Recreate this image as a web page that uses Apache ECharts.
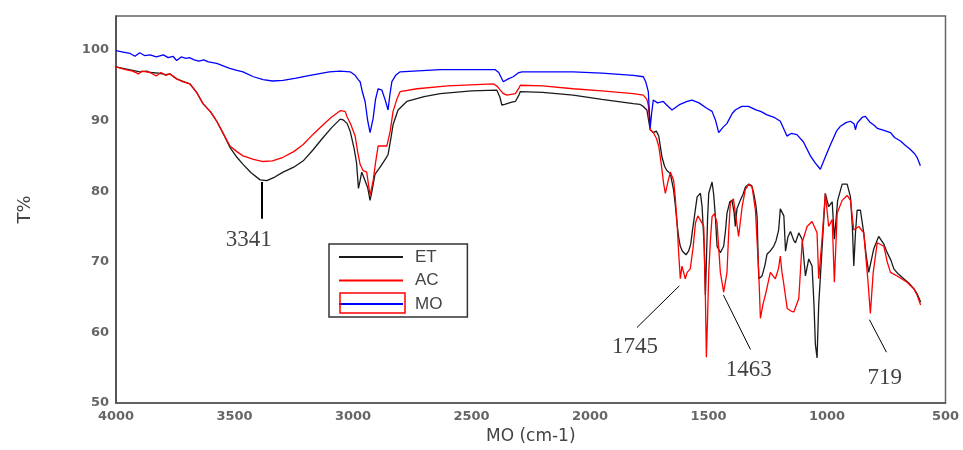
<!DOCTYPE html>
<html>
<head>
<meta charset="utf-8">
<script src="https://cdn.jsdelivr.net/npm/echarts@6/dist/echarts.min.js"></script>
<style>html,body{margin:0;padding:0;background:#fff}#c{width:963px;height:450px}</style>
</head>
<body>
<div id="c"></div>
<script>
// ---- data ----
var seriesNames = ['ET', 'AC', 'MO'];
var xTicks = [500, 1000, 1500, 2000, 2500, 3000, 3500, 4000];
var yTicks = [50, 60, 70, 80, 90, 100];

var etPoints = [[4000,97.6],[3960,97.3],[3930,97.1],[3900,96.9],[3870,97.0],[3856,96.8],[3820,96.7],[3790,96.5],[3772,96.6],[3744,95.9],[3720,95.6],[3688,95.2],[3660,94.0],[3633,92.4],[3600,91.2],[3575,89.9],[3545,88.0],[3519,86.2],[3490,84.8],[3464,83.8],[3430,82.6],[3392,81.6],[3364,81.5],[3330,82.0],[3295,82.7],[3250,83.4],[3210,84.3],[3170,85.8],[3126,87.6],[3090,89.0],[3054,90.2],[3042,90.1],[3025,89.6],[3012,88.5],[2995,86.0],[2985,84.0],[2977,80.4],[2970,81.5],[2963,82.7],[2955,82.0],[2949,82.2],[2938,80.5],[2928,78.7],[2920,80.0],[2907,82.4],[2890,83.2],[2878,83.8],[2862,84.6],[2852,85.2],[2840,87.5],[2831,89.4],[2810,91.5],[2773,92.7],[2700,93.4],[2632,93.8],[2500,94.2],[2393,94.3],[2380,93.3],[2372,92.2],[2360,92.3],[2350,92.4],[2330,92.6],[2315,92.7],[2300,93.6],[2294,94.1],[2200,94.0],[2071,93.6],[1950,93.0],[1817,92.4],[1790,92.3],[1775,92.0],[1760,91.5],[1750,89.5],[1746,88.7],[1733,88.3],[1720,88.5],[1710,87.8],[1696,84.8],[1685,83.5],[1675,82.9],[1661,82.5],[1647,80.1],[1640,78.0],[1633,75.5],[1626,73.5],[1619,72.2],[1610,71.5],[1605,71.3],[1595,71.0],[1584,71.5],[1575,72.5],[1569,74.1],[1555,77.5],[1548,79.2],[1534,79.7],[1527,77.8],[1518,72.0],[1513,65.3],[1509,70.0],[1504,76.0],[1499,79.7],[1485,81.3],[1478,79.5],[1471,76.4],[1464,72.2],[1450,71.3],[1436,72.2],[1428,74.5],[1422,76.9],[1410,78.5],[1401,78.7],[1392,77.0],[1387,75.0],[1380,77.5],[1366,78.7],[1355,79.5],[1344,80.6],[1330,81.0],[1318,80.8],[1309,79.7],[1300,78.0],[1295,76.4],[1288,67.6],[1274,68.0],[1262,69.5],[1253,71.1],[1240,71.5],[1225,72.2],[1215,73.0],[1204,74.5],[1197,77.5],[1189,77.3],[1182,76.5],[1175,71.5],[1165,73.5],[1154,74.3],[1140,73.0],[1133,72.7],[1119,74.1],[1105,73.2],[1091,68.0],[1077,70.4],[1063,69.4],[1055,64.0],[1049,58.3],[1042,56.4],[1035,63.9],[1021,71.8],[1007,79.7],[993,77.8],[978,78.5],[969,73.2],[955,78.7],[936,81.0],[915,81.0],[901,79.2],[893,75.0],[887,69.4],[880,74.0],[873,77.3],[859,77.3],[845,74.1],[835,71.0],[824,68.5],[803,71.8],[782,73.6],[760,72.5],[746,71.3],[730,70.2],[718,69.0],[700,68.3],[676,67.6],[655,67.0],[634,66.2],[620,65.5],[605,64.3]];

var acPoints = [[4000,97.6],[3960,97.2],[3930,97.0],[3905,96.6],[3890,97.0],[3856,96.8],[3830,96.3],[3810,96.8],[3790,96.4],[3772,96.6],[3744,95.9],[3720,95.5],[3688,95.2],[3660,94.0],[3633,92.4],[3600,91.2],[3575,89.9],[3545,88.0],[3519,86.4],[3490,85.6],[3464,85.0],[3420,84.5],[3379,84.2],[3340,84.3],[3295,84.8],[3250,85.6],[3210,86.6],[3170,88.0],[3126,89.4],[3090,90.5],[3054,91.4],[3033,91.3],[3026,90.6],[3010,89.5],[2991,87.8],[2980,85.5],[2970,83.8],[2957,82.9],[2942,82.7],[2935,81.0],[2928,79.4],[2915,81.5],[2905,84.0],[2894,86.4],[2857,86.4],[2843,88.5],[2831,91.3],[2815,93.0],[2801,94.1],[2730,94.5],[2600,94.9],[2408,95.2],[2390,94.8],[2379,94.3],[2365,93.8],[2350,93.6],[2315,93.8],[2300,94.6],[2294,95.0],[2200,94.9],[2071,94.5],[1950,94.2],[1817,93.8],[1775,93.6],[1760,93.0],[1754,92.2],[1746,88.7],[1733,88.3],[1720,87.5],[1710,86.4],[1700,84.0],[1689,81.0],[1682,79.7],[1670,81.5],[1661,82.7],[1647,81.5],[1640,79.0],[1633,75.7],[1626,71.3],[1619,67.6],[1612,69.4],[1605,68.5],[1598,67.6],[1590,68.5],[1577,69.0],[1565,72.0],[1555,75.5],[1545,76.5],[1534,75.9],[1520,75.0],[1513,64.8],[1509,56.5],[1504,62.0],[1499,68.5],[1492,73.0],[1485,76.4],[1475,76.8],[1464,75.5],[1457,72.0],[1450,68.5],[1436,65.7],[1422,68.5],[1415,74.0],[1408,78.3],[1395,78.9],[1387,78.7],[1373,73.6],[1358,77.8],[1345,80.2],[1330,81.0],[1316,80.6],[1302,77.3],[1288,68.5],[1281,62.0],[1270,64.0],[1260,65.3],[1239,68.5],[1218,67.6],[1205,69.0],[1197,70.8],[1190,68.5],[1183,67.0],[1168,63.4],[1150,63.0],[1140,62.9],[1119,64.8],[1105,72.7],[1084,75.0],[1063,75.7],[1042,74.1],[1035,67.6],[1021,73.2],[1007,79.7],[993,75.0],[978,76.0],[969,67.1],[957,76.9],[936,78.7],[915,79.4],[901,78.7],[887,74.5],[866,75.0],[845,74.1],[828,67.6],[817,62.7],[805,68.5],[788,72.7],[760,72.2],[746,70.0],[732,68.5],[704,68.0],[662,67.1],[634,66.2],[620,65.3],[605,63.9]];

var moPoints = [[4000,99.9],[3970,99.7],[3940,99.5],[3920,99.1],[3900,99.6],[3880,99.2],[3856,99.3],[3830,99.0],[3800,99.3],[3780,98.9],[3760,99.1],[3744,98.5],[3725,99.0],[3705,98.8],[3690,98.9],[3670,98.6],[3650,98.4],[3630,98.6],[3610,98.3],[3575,98.1],[3545,97.7],[3520,97.4],[3490,97.1],[3464,96.9],[3420,96.2],[3379,95.8],[3340,95.6],[3295,95.7],[3240,96.0],[3181,96.4],[3100,96.9],[3054,97.0],[3012,96.9],[2991,96.4],[2978,95.8],[2970,95.5],[2960,94.0],[2949,92.7],[2938,90.0],[2928,88.3],[2915,90.3],[2905,93.0],[2894,94.5],[2878,94.3],[2865,93.0],[2852,91.5],[2845,93.5],[2836,95.5],[2820,96.4],[2801,96.9],[2632,97.2],[2400,97.2],[2385,96.8],[2366,95.5],[2345,95.9],[2324,96.2],[2300,96.8],[2287,96.9],[2071,96.9],[1950,96.7],[1817,96.4],[1775,96.2],[1765,95.5],[1754,94.1],[1746,89.0],[1740,91.0],[1733,92.9],[1715,92.5],[1691,92.7],[1670,92.0],[1654,91.5],[1620,92.3],[1590,92.7],[1570,92.9],[1540,92.5],[1506,91.7],[1485,91.3],[1470,90.0],[1457,88.3],[1440,89.0],[1422,89.6],[1400,91.0],[1387,91.5],[1360,92.0],[1331,92.0],[1300,91.5],[1280,91.3],[1253,90.8],[1220,90.4],[1197,89.9],[1185,89.0],[1169,87.8],[1150,88.2],[1127,88.0],[1100,87.0],[1070,85.0],[1050,84.0],[1028,83.1],[1005,85.0],[985,86.6],[960,88.5],[943,89.2],[920,89.7],[901,89.9],[885,89.5],[880,88.7],[873,89.6],[866,89.9],[850,90.5],[838,90.6],[820,89.8],[800,89.3],[788,88.9],[760,88.6],[732,88.3],[715,87.6],[690,87.1],[670,86.5],[648,85.9],[630,85.3],[620,84.8],[606,83.6]];

// peak annotations: label, label position, leader line from/to
var annLabels = ['3341', '1745', '1463', '719'];
var annTextPos = [[3440, 73.1], [1810, 57.9], [1330, 54.7], [756, 53.6]];
var annLineFrom = [[3386, 81.3], [1623, 66.6], [1437, 65.3], [821, 61.8]];
var annLineTo = [[3386, 76.1], [1802, 60.7], [1323, 57.6], [749, 57.2]];
var annLineWidth = [2, 1, 1, 1];

// ---- chart ----
var chart = echarts.init(document.getElementById('c'), null, {renderer: 'canvas'});
var colors = ['#1a1a1a', '#ff0000', '#0000ff'];
var pts = [etPoints, acPoints, moPoints];

var series = seriesNames.map(function (n, i) {
  return {
    name: n, type: 'line', data: pts[i], symbol: 'none', silent: true,
    lineStyle: {color: colors[i], width: 1.3}, itemStyle: {color: colors[i]},
    z: 2 + i
  };
});
series.push({
  name: 'leaders', type: 'lines', coordinateSystem: 'cartesian2d', silent: true,
  data: annLabels.map(function (l, i) {
    return {coords: [annLineFrom[i], annLineTo[i]], lineStyle: {width: annLineWidth[i]}};
  }),
  lineStyle: {color: '#000', width: 1, opacity: 1}, z: 10
});
series.push({
  name: 'peaks', type: 'scatter', symbolSize: 0, silent: true,
  data: annLabels.map(function (l, i) { return {value: annTextPos[i], name: l}; }),
  label: {
    show: true, position: 'inside', formatter: function (p) { return p.name; },
    fontFamily: 'Liberation Serif', fontSize: 23, color: '#111'
  }, z: 10
});

chart.setOption({
  animation: false,
  backgroundColor: '#fff',
  grid: {left: 116, right: 17.5, top: 16, bottom: 40.5, show: true, borderColor: '#666', borderWidth: 1.5, backgroundColor: 'transparent'},
  legend: {
    data: seriesNames, orient: 'vertical', left: 329, top: 244,
    padding: [4, 25, 4, 10], itemGap: 5.5, itemWidth: 64, itemHeight: 2, icon: 'rect',
    borderColor: '#333', borderWidth: 1.5, backgroundColor: '#fff',
    textStyle: {fontFamily: 'Liberation Sans', fontSize: 17, color: '#444', lineHeight: 18, padding: [0, 0, 0, 7]},
    selectedMode: false
  },
  xAxis: {
    type: 'value', inverse: true, min: 500, max: 4000, interval: 500,
    name: 'MO (cm-1)', nameLocation: 'middle', nameGap: 24,
    nameTextStyle: {fontFamily: 'DejaVu Sans', fontSize: 17, color: '#444'},
    axisLine: {show: true, lineStyle: {color: '#555', width: 1.5}},
    axisTick: {show: false}, splitLine: {show: false},
    axisLabel: {fontFamily: 'DejaVu Sans', fontWeight: 'bold', fontSize: 13, color: '#666', margin: 7,
      formatter: function (v) { return xTicks.indexOf(v) >= 0 ? String(v) : ''; }}
  },
  yAxis: {
    type: 'value', min: 50, max: 104.8, interval: 10,
    name: 'T%', nameLocation: 'middle', nameGap: 82, nameRotate: 90,
    nameTextStyle: {fontFamily: 'DejaVu Sans', fontSize: 18, color: '#444'},
    axisLine: {show: true, lineStyle: {color: '#444', width: 1.5}},
    axisTick: {show: false}, splitLine: {show: false},
    axisLabel: {fontFamily: 'DejaVu Sans', fontWeight: 'bold', fontSize: 13, color: '#666', margin: 7,
      formatter: function (v) { return yTicks.indexOf(v) >= 0 ? String(v) : ''; }}
  },
  graphic: [{
    type: 'rect', z: 100, silent: true,
    shape: {x: 340, y: 293, width: 65, height: 20},
    style: {fill: 'none', stroke: '#ff0000', lineWidth: 1.5}
  }],
  series: series
});
</script>
</body>
</html>
